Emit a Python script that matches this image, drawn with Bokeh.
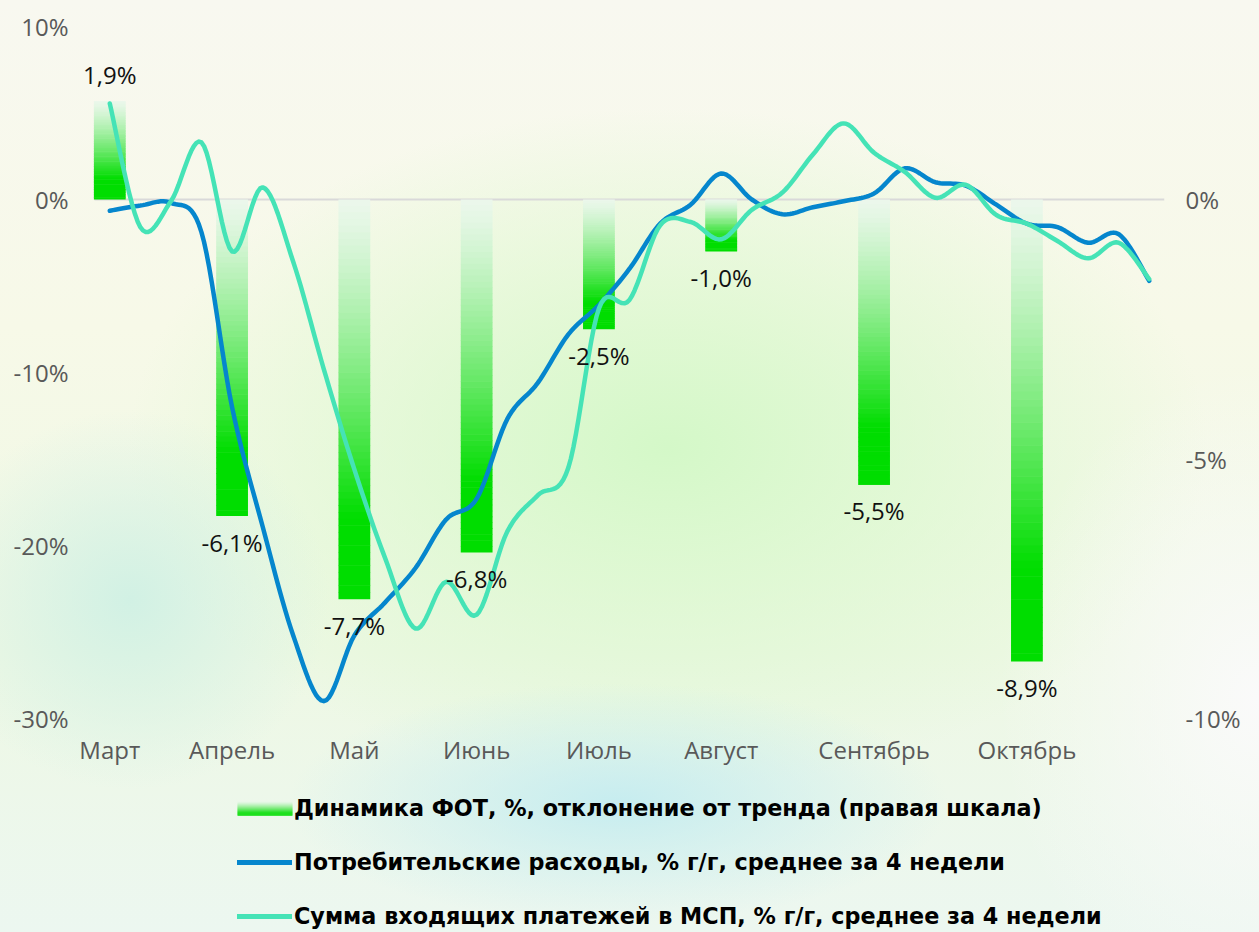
from bokeh.plotting import figure
from bokeh.layouts import column
from bokeh.models import (Range1d, LinearAxis, FixedTicker, ColumnDataSource,
                          Legend, LegendItem)
from bokeh.core.properties import value
from bokeh.embed import file_html
from bokeh.resources import INLINE

# ---------------- data ----------------
months = ["Март", "Апрель", "Май", "Июнь", "Июль", "Август", "Сентябрь", "Октябрь"]
month_week = [0, 4, 8, 12, 16, 20, 25, 30]          # week index of each month start
fot = [1.9, -6.1, -7.7, -6.8, -2.5, -1.0, -5.5, -8.9]  # right scale, %

weeks = list(range(35))
consumer = [-0.65, -0.35, -0.2, -1.9, -12.0, -18.9, -25.2, -29.0, -25.2, -23.3,
            -21.3, -18.5, -17.3, -12.7, -10.6, -7.8, -6.1, -4.0, -1.4, -0.3,
            1.5, 0.0, -0.85, -0.45, -0.1, 0.35, 1.8, 1.0, 0.8, -0.3,
            -1.4, -1.6, -2.5, -2.0, -4.7]
sme = [5.55, -1.6, -0.1, 3.3, -3.0, 0.7, -3.6, -9.8, -15.6, -20.7,
       -24.8, -22.1, -24.0, -19.2, -17.1, -15.5, -6.3, -5.8, -1.5, -1.3,
       -2.3, -0.6, 0.4, 2.6, 4.4, 2.7, 1.6, 0.1, 0.85, -0.9,
       -1.4, -2.4, -3.4, -2.5, -4.6]

left_ticks = [-30, -20, -10, 0, 10]
right_ticks = [-10, -5, 0]

legend_labels = ["Динамика ФОТ, %, отклонение от тренда (правая шкала)",
                 "Потребительские расходы, % г/г, среднее за 4 недели",
                 "Сумма входящих платежей в МСП, % г/г, среднее за 4 недели"]

BLUE = "#0586cd"
CYAN = "#45e3b6"
TICK_FONT = "Open Sans"

W = 1259
H_MAIN = 778
H_LEG = 932 - H_MAIN
B_LEFT, B_RIGHT = 74, 95


def smooth(xs, ys, n=12):
    """Catmull-Rom spline through the given points (drawing only)."""
    px, py = [], []
    m = len(xs)
    for i in range(m - 1):
        i0, i1, i2, i3 = max(i - 1, 0), i, i + 1, min(i + 2, m - 1)
        for k in range(n):
            t = k / n
            t2, t3 = t * t, t * t * t
            def cr(a0, a1, a2, a3):
                return 0.5 * (2 * a1 + (-a0 + a2) * t + (2 * a0 - 5 * a1 + 4 * a2 - a3) * t2
                              + (-a0 + 3 * a1 - 3 * a2 + a3) * t3)
            px.append(cr(xs[i0], xs[i1], xs[i2], xs[i3]))
            py.append(cr(ys[i0], ys[i1], ys[i2], ys[i3]))
    px.append(xs[-1])
    py.append(ys[-1])
    return px, py


def grad_color(t):
    s = min(t / 0.8, 1.0) ** 1.3
    r = int(236 + (0 - 236) * s)
    g = int(248 + (221 - 248) * s)
    b = int(236 + (0 - 236) * s)
    return f"#{r:02x}{g:02x}{b:02x}"


# ---------------- main figure ----------------
PX_WEEK = 30.57
x_lo = weeks[0] - 0.5 - 20 / PX_WEEK   # extra room so the first label is not clipped
p = figure(width=W, height=H_MAIN, output_backend="svg", toolbar_location=None,
           x_range=Range1d(x_lo, weeks[-1] + 0.5), y_range=Range1d(-30, 10),
           min_border_left=B_LEFT, min_border_right=B_RIGHT, min_border_top=26,
           min_border_bottom=H_MAIN - 26 - 692)
p.extra_y_ranges = {"right": Range1d(-10, 10 / 3)}

p.background_fill_alpha = 0
p.border_fill_alpha = 0
p.outline_line_color = None
p.grid.visible = False


def style_axis(ax):
    ax.axis_line_color = None
    ax.major_tick_line_color = None
    ax.minor_tick_line_color = None
    ax.major_label_text_font = TICK_FONT
    ax.major_label_text_font_size = "24px"
    ax.major_label_text_color = "#595959"


xa = p.xaxis[0]
xa.ticker = FixedTicker(ticks=month_week)
xa.major_label_overrides = {w: m for w, m in zip(month_week, months)}
xa.major_label_standoff = 8
style_axis(xa)

ya = p.yaxis[0]
ya.ticker = FixedTicker(ticks=left_ticks)
ya.major_label_overrides = {t: f"{t}%" for t in left_ticks}
ya.major_label_standoff = 0
style_axis(ya)

ra = LinearAxis(y_range_name="right", ticker=FixedTicker(ticks=right_ticks))
ra.major_label_overrides = {t: f"{t}%" for t in right_ticks}
ra.major_label_standoff = 15
style_axis(ra)
p.add_layout(ra, "right")

# zero line across the category area
p.segment(x0=[weeks[0] - 0.5], x1=[weeks[-1] + 0.5], y0=[0], y1=[0],
          line_color="#d9d9d9", line_width=2)

# ---------------- gradient bars (right scale) ----------------
N = 60
seg = dict(left=[], right=[], top=[], bottom=[], color=[])
bw = 1.04
for w, v in zip(month_week, fot):
    hi, lo = max(v, 0.0), min(v, 0.0)
    h = hi - lo
    for j in range(N):
        t0, t1 = j / N, (j + 1) / N
        seg["left"].append(w - bw / 2)
        seg["right"].append(w + bw / 2)
        seg["top"].append(hi - h * t0 + (0.01 if j > 0 else 0))
        seg["bottom"].append(hi - h * t1)
        seg["color"].append(grad_color((t0 + t1) / 2))
bar_src = ColumnDataSource(seg)
p.quad(left="left", right="right", top="top", bottom="bottom", fill_color="color",
       line_color=None, source=bar_src, y_range_name="right")

# ---------------- lines ----------------
bx, by = smooth(weeks, consumer)
cx, cy = smooth(weeks, sme)
p.line(bx, by, line_color=BLUE, line_width=4.5, line_cap="round", line_join="round")
p.line(cx, cy, line_color=CYAN, line_width=4.5, line_cap="round", line_join="round")

# ---------------- data labels ----------------
lab_txt = [(f"{v:.1f}%").replace(".", ",") for v in fot]
pos_src = ColumnDataSource(dict(x=[w for w, v in zip(month_week, fot) if v >= 0],
                                y=[v for v in fot if v >= 0],
                                t=[t for t, v in zip(lab_txt, fot) if v >= 0]))
neg_src = ColumnDataSource(dict(x=[w for w, v in zip(month_week, fot) if v < 0],
                                y=[v for v in fot if v < 0],
                                t=[t for t, v in zip(lab_txt, fot) if v < 0]))
for src, off in ((pos_src, -26), (neg_src, 26)):
    p.text(x="x", y="y", text="t", source=src, y_range_name="right", y_offset=off,
           text_align="center", text_baseline="middle", text_font=value(TICK_FONT),
           text_font_size="24px", text_color="#111111")

# ---------------- legend figure (screen-pixel coordinates) ----------------
q = figure(width=W, height=H_LEG, output_backend="svg", toolbar_location=None,
           x_range=Range1d(B_LEFT, W - B_RIGHT), y_range=Range1d(H_LEG, 0),
           x_axis_location=None, y_axis_location=None,
           min_border_left=B_LEFT, min_border_right=B_RIGHT,
           min_border_top=0, min_border_bottom=0)
q.background_fill_alpha = 0
q.border_fill_alpha = 0
q.outline_line_color = None
q.grid.visible = False

LEG_X = 237
ROW_H = 26
ROW_SP = 28
LEG_TOP = 17
SW_W = 55
row_c = [LEG_TOP + ROW_H / 2 + i * (ROW_H + ROW_SP) for i in range(3)]

# gradient swatch for the bar series
sw_top, sw_bot = row_c[0] - 7, row_c[0] + 7
nb = 14
q.quad(left=[LEG_X] * nb, right=[LEG_X + SW_W] * nb,
       top=[sw_top + (sw_bot - sw_top) * j / nb for j in range(nb)],
       bottom=[sw_top + (sw_bot - sw_top) * (j + 1) / nb + 0.3 for j in range(nb)],
       fill_color=[grad_color((j + 0.5) / nb) for j in range(nb)], line_color=None)

r_bar = q.quad(left=[], right=[], top=[], bottom=[], fill_alpha=0, line_alpha=0)
r_blue = q.line(x=[LEG_X + 3, LEG_X + SW_W - 3], y=[row_c[1]] * 2,
                line_color=BLUE, line_width=5, line_cap="round")
r_cyan = q.line(x=[LEG_X + 3, LEG_X + SW_W - 3], y=[row_c[2]] * 2,
                line_color=CYAN, line_width=5, line_cap="round")

leg_h = 3 * ROW_H + 2 * ROW_SP
legend = Legend(items=[LegendItem(label=legend_labels[0], renderers=[r_bar]),
                       LegendItem(label=legend_labels[1], renderers=[r_blue]),
                       LegendItem(label=legend_labels[2], renderers=[r_cyan])],
                orientation="vertical",
                location=(LEG_X - B_LEFT, H_LEG - LEG_TOP - leg_h))
legend.label_text_font = "DejaVu Sans"
legend.label_text_font_style = "bold"
legend.label_text_font_size = "22.3px"
legend.label_text_color = "#000000"
legend.label_height = ROW_H
legend.glyph_width = SW_W
legend.glyph_height = ROW_H
legend.label_standoff = 2
legend.spacing = ROW_SP
legend.padding = 0
legend.margin = 0
legend.border_line_alpha = 0
legend.background_fill_alpha = 0
q.add_layout(legend)

bg = (
    "radial-gradient(ellipse 330px 120px at 618px 803px, rgba(196,236,240,0.95), rgba(196,236,240,0)),"
    "radial-gradient(ellipse 200px 190px at 130px 600px, rgba(206,240,228,0.9), rgba(206,240,228,0)),"
    "radial-gradient(ellipse 260px 330px at 1258px 698px, rgba(250,250,250,1), rgba(250,250,250,0)),"
    "radial-gradient(ellipse 540px 340px at 668px 448px, rgba(212,248,200,1), rgba(212,248,200,0)),"
    "linear-gradient(180deg, #f8f8f0 0%, #f7f9e8 35%, #eef8e4 70%, #ecf7f0 100%)"
)
page = column(p, q, spacing=0, styles={"background": bg})

open("out.html", "w").write(file_html(page, INLINE))
